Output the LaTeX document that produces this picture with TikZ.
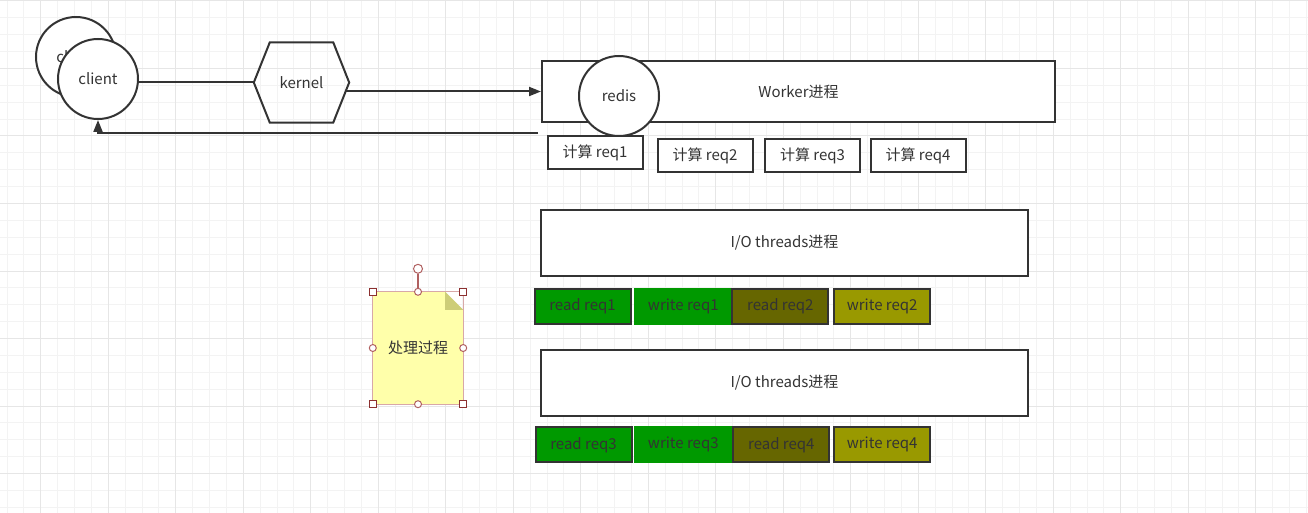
\documentclass[tikz,border=0pt]{standalone}
\usepackage{fontspec}
\setmainfont{Noto Sans CJK SC}
\usetikzlibrary{calc}
\usetikzlibrary{arrows.meta}

\definecolor{ink}{HTML}{333333}
\definecolor{gridminor}{HTML}{F3F3F3}
\definecolor{gridmajor}{HTML}{E6E6E6}
\definecolor{readgreen}{HTML}{009900}
\definecolor{readolive}{HTML}{666600}
\definecolor{writeolive}{HTML}{999900}
\definecolor{notefill}{HTML}{FFFFAA}
\definecolor{notefold}{HTML}{CDCD78}
\definecolor{noteedge}{HTML}{D8A8A8}
\definecolor{handleedge}{HTML}{8C3030}
\definecolor{handleround}{HTML}{B06060}

\begin{document}
\begin{tikzpicture}[x=1pt, y=-1pt,
  line/.style={line width=2pt, draw=ink},
  proc/.style={
    % The shape:
    rectangle,
    % The border:
    line width=2pt, draw=ink,
    % The filling:
    fill=white,
    inner sep=0pt},
  peer/.style={
    % The shape:
    circle,
    minimum size=80pt,
    % The rest
    line width=2pt, draw=ink, fill=white, inner sep=0pt},
  calcbox/.style={proc, minimum width=95pt, minimum height=33pt},
  iobox/.style={proc, minimum width=487pt, minimum height=66pt},
  reqbox/.style={
    % The shape:
    rectangle,
    minimum width=96pt, minimum height=35pt, inner sep=0pt,
    % The border:
    line width=2pt, draw=ink},
  readreq/.style={reqbox, fill=readgreen},
  writereq/.style={reqbox, fill=readgreen, draw=readgreen},
  readreqb/.style={reqbox, fill=readolive},
  writereqb/.style={reqbox, fill=writeolive},
  handle/.style={rectangle, minimum size=7pt, inner sep=0pt,
    draw=handleedge, fill=white, line width=1pt},
  roundhandle/.style={circle, minimum size=7pt, inner sep=0pt,
    draw=handleround, fill=white, line width=1pt},
  >={Triangle[length=12pt,width=9pt]},
  font=\fontsize{15pt}{18pt}\selectfont, ink, text=ink]

  \useasboundingbox (0,0) rectangle (1308,513);
  \fill[white] (0,0) rectangle (1308,513);

  % background grid
  \begin{scope}[line width=1pt]
    \clip (0,0) rectangle (1308,513);
    \foreach \k in {-3,...,76} {
      \draw[gridminor] ({40.8+16.875*\k},0) -- ({40.8+16.875*\k},513);
    }
    \foreach \k in {-1,...,30} {
      \draw[gridminor] (0,{1+16.875*\k}) -- (1308,{1+16.875*\k});
    }
    \foreach \k in {-1,...,19} {
      \draw[gridmajor] ({40.8+67.5*\k},0) -- ({40.8+67.5*\k},513);
    }
    \foreach \k in {0,...,7} {
      \draw[gridmajor] (0,{1+67.5*\k}) -- (1308,{1+67.5*\k});
    }
  \end{scope}

  \node (client_back) [peer] at (76,57) {client};
  \node (client) [peer] at (98,79) {client};

  \node (kernel) [minimum width=95pt, minimum height=80pt, inner sep=0pt] at (301.5,82.5) {kernel};
  \draw[line] ([xshift=16pt]kernel.north west) -- ([xshift=-16pt]kernel.north east)
    -- (kernel.east) -- ([xshift=-16pt]kernel.south east)
    -- ([xshift=16pt]kernel.south west) -- (kernel.west) -- cycle;
  \draw[line] (client.east |- kernel.west) -- (kernel.west);

  \node (worker) [proc, minimum width=513pt, minimum height=61pt] at (798.5,91.5) {Worker进程};
  \node (redis) [peer] at (619,96) {redis};
  \draw[line, ->] ($(kernel.east |- worker.west)+(-4,0)$) -- (worker.west);

  \coordinate (ret) at (538,133);
  \draw[line, ->] (ret) -| (client.south);

  \node (calc1) [calcbox] at (595,152.7) {计算 req1};
  \node (calc2) [calcbox] at (705,156) {计算 req2};
  \node (calc3) [calcbox] at (812.5,156) {计算 req3};
  \node (calc4) [calcbox] at (918,156) {计算 req4};

  \node (io1) [iobox] at (784.5,243) {I/O threads进程};
  \node (read1) [readreq] at (582.5,306) {read req1};
  \node (write1) [writereq] at (683.3,306) {write req1};
  \node (read2) [readreqb] at (780.3,306) {read req2};
  \node (write2) [writereqb] at (882.2,306) {write req2};

  \node (io2) [iobox] at (784.5,383) {I/O threads进程};
  \node (read3) [readreq] at (583.5,444.8) {read req3};
  \node (write3) [writereq] at (683.3,444.8) {write req3};
  \node (read4) [readreqb] at (781.3,444.8) {read req4};
  \node (write4) [writereqb] at (882.2,444.8) {write req4};

  % note with its selection handles
  \node (note) [minimum width=90pt, minimum height=112pt, inner sep=0pt] at (418,348) {};
  \fill[notefill] (note.north west) -- ([xshift=-18pt]note.north east)
    -- ([yshift=-18pt]note.north east) -- (note.south east) -- (note.south west) -- cycle;
  \fill[notefold] ([xshift=-18pt]note.north east) -- ([yshift=-18pt]note.north east)
    -- ([xshift=-18pt,yshift=-18pt]note.north east) -- cycle;
  \draw[noteedge, line width=1pt] (note.north west) rectangle (note.south east);
  \node at (note) {处理过程};
  \foreach \a in {north west, north east, south west, south east} {
    \node[handle] at (note.\a) {};
  }
  \foreach \a in {south, east, west} {
    \node[roundhandle] at (note.\a) {};
  }
  \node (top) [roundhandle] at (note.north) {};
  \node (rot) [roundhandle, minimum size=9pt] at ([yshift=23pt]note.north) {};
  \draw[handleround, line width=1.5pt] (rot) -- (top);
\end{tikzpicture}
\end{document}
